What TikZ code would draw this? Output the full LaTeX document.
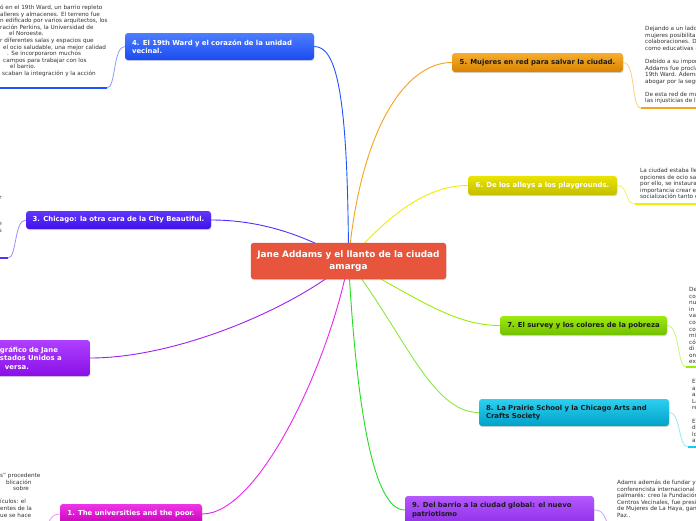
\documentclass[tikz,border=0pt]{standalone}
\usepackage{fontspec}
\setmainfont{DejaVu Sans}
\usetikzlibrary{shadows}
\pgfdeclarelayer{bg}
\pgfsetlayers{bg,main}
\definecolor{cred}{HTML}{E8553D}
\definecolor{b4t}{HTML}{4D7DFF}\definecolor{b4b}{HTML}{1A4CF0}
\definecolor{b5t}{HTML}{F7AE2E}\definecolor{b5b}{HTML}{D98200}
\definecolor{b6t}{HTML}{EAE400}\definecolor{b6b}{HTML}{C4BE00}
\definecolor{b3t}{HTML}{6036FF}\definecolor{b3b}{HTML}{3E12E6}
\definecolor{b2t}{HTML}{AE40FF}\definecolor{b2b}{HTML}{8A10E6}
\definecolor{b7t}{HTML}{9EEA10}\definecolor{b7b}{HTML}{72C000}
\definecolor{b8t}{HTML}{2CD0F0}\definecolor{b8b}{HTML}{00A2C8}
\definecolor{b9t}{HTML}{B458FF}\definecolor{b9b}{HTML}{9030E8}
\definecolor{b1t}{HTML}{EE36E6}\definecolor{b1b}{HTML}{C800B8}
\definecolor{l4}{HTML}{1F55FF}
\definecolor{l5}{HTML}{F7A21B}
\definecolor{l6}{HTML}{F0EE00}
\definecolor{l3}{HTML}{5030FF}
\definecolor{l2}{HTML}{A020F0}
\definecolor{l1}{HTML}{EE22EE}
\definecolor{l7}{HTML}{99EE00}
\definecolor{l8}{HTML}{88E844}
\definecolor{l9}{HTML}{22DD22}
\definecolor{l8u}{HTML}{11CCEE}
\definecolor{l9u}{HTML}{A040F0}
\definecolor{notegray}{HTML}{333333}
\definecolor{darktext}{HTML}{1A1A1A}
\newcommand{\leftlines}[1]{\begin{tabular}{@{}l@{}}#1\end{tabular}}
\newcommand{\rightlines}[1]{\begin{tabular}{@{}r@{}}#1\end{tabular}}
\tikzset{
  box/.style={rounded corners=3pt, inner xsep=7pt, inner ysep=0pt, align=left,
    font=\fontsize{6.9}{8.4}\selectfont\bfseries,
    drop shadow={opacity=0.3, shadow xshift=0.4pt, shadow yshift=-1.2pt}},
  onebox/.style={box, inner xsep=0pt, align=center},
  note/.style={inner sep=0pt, anchor=north west,
    font=\fontsize{5.7}{6.55}\selectfont, text=notegray},
  link/.style={line width=0.9pt},
  twig/.style={line width=0.8pt},
  under/.style={line width=1.8pt},
}
\begin{document}
\begin{tikzpicture}[x=1pt,y=-1pt]
\useasboundingbox (0,0) rectangle (696,520);
\begin{pgfonlayer}{bg}
\fill[white] (0,0) rectangle (696,520);
\end{pgfonlayer}

% central node
\node[box, align=center, inner xsep=0pt, fill=cred, draw=cred!90!black, text=white,
  font=\fontsize{8.9}{11.6}\selectfont\bfseries, minimum width=195pt, minimum height=36pt]
  (c) at (348.5,261) {Jane Addams y el llanto de la ciudad\\amarga};

% branch nodes
\node[box, top color=b4t, bottom color=b4b, text=white, text width=175pt, minimum height=27pt]
  (n4) at (219.5,46.5) {\mbox{4. El 19th Ward y el corazón de la unidad}\\vecinal.};
\node[onebox, top color=b5t, bottom color=b5b, text=darktext, minimum width=171pt, minimum height=19pt]
  (n5) at (537.5,62.5) {5. Mujeres en red para salvar la ciudad.};
\node[onebox, top color=b6t, bottom color=b6b, text=white, minimum width=149pt, minimum height=19pt]
  (n6) at (542.5,185.5) {6. De los alleys a los playgrounds.};
\node[onebox, top color=b3t, bottom color=b3b, text=white, minimum width=185pt, minimum height=18pt]
  (n3) at (118.5,220) {3. Chicago: la otra cara de la City Beautiful.};
\node[box, top color=b2t, bottom color=b2b, text=white, text width=96pt, minimum height=36pt]
  (n2) at (35,358) {\hspace*{13pt}gráfico de Jane\\\hspace*{13pt}stados Unidos a\\\hspace*{18pt}versa.};
\node[onebox, top color=b7t, bottom color=b7b, text=darktext, minimum width=167pt, minimum height=19pt]
  (n7) at (583.5,325.5) {7. El survey y los colores de la pobreza};
\node[box, top color=b8t, bottom color=b8b, text=darktext, text width=176pt, minimum height=27pt]
  (n8) at (574,412.5) {\mbox{8. La Prairie School y la Chicago Arts and}\\Crafts Society};
\node[box, top color=b9t, bottom color=b9b, text=darktext, text width=175pt, minimum height=28pt]
  (n9) at (499.5,510) {\mbox{9. Del barrio a la ciudad global: el nuevo}\\patriotismo};
\node[onebox, top color=b1t, bottom color=b1b, text=white, minimum width=142pt, minimum height=20pt]
  (n1) at (131,514) {1. The universities and the poor.};

% note texts
\node[note] (t4) at (0,5) {\leftlines{ó en el 19th Ward, un barrio repleto\\
alleres y almacenes. El terreno fue\\
n edificado por varios arquitectos, los\\
ración Perkins, la Universidad de\\
\hspace*{9pt}el Noroeste.\\
r diferentes salas y espacios que\\
\hspace*{3pt}el ocio saludable, una mejor calidad\\
\hspace*{7pt}. Se incorporaron muchos\\
\hspace*{3pt}campos para trabajar con los\\
\hspace*{10pt}el barrio.\\
\hspace*{2pt}scaban la integración y la acción}};
\node[note] (t5) at (645,26) {\leftlines{Dejando a un lado\\mujeres posibilitar\\colaboraciones. Di\\como educativas o\\ \\Debido a su impor\\Addams fue procla\\19th Ward. Ademá\\abogar por la segu\\ \\De esta red de mu\\las injusticias de la}};
\node[note] (t6) at (640,168) {\leftlines{La ciudad estaba llen\\opciones de ocio salu\\por ello, se instauraro\\importancia crear es\\socialización tanto o}};
\node[note, anchor=north east] (t3) at (2,195) {\rightlines{r\\ \\ \\ \\e\\s}};
\node[note] (t7) at (689,287) {\leftlines{De\\co\\nu\\in\\va\\co\\co\\mi\\có\\di\\on\\ex}};
\node[note] (t8) at (692,379) {\leftlines{E\\al\\an\\La\\re\\ \\E\\de\\lo\\ar}};
\node[note] (t9) at (617,480) {\leftlines{Adams además de fundar y f\\conferencista internacional c\\palmarés: creo la Fundación\\Centros Vecinales, fue preside\\de Mujeres de La Haya, gana\\Paz..}};
\node[note] (t1) at (0,473) {\leftlines{s" procedente\\\hspace*{6pt}blicación\\\hspace*{13pt}sobre\\ \\ículos: el\\entes de la\\ue se hace}};

% end points of underlines
\coordinate (u4a) at (107,88);  \coordinate (u4b) at (0,88);
\coordinate (u5a) at (641,108); \coordinate (u5b) at (696,108);
\coordinate (u6a) at (635,204); \coordinate (u6b) at (696,204);
\coordinate (u3a) at (8,258);   \coordinate (u3b) at (0,258);
\coordinate (u7a) at (686,367); \coordinate (u7b) at (696,367);
\coordinate (u8a) at (688,447); \coordinate (u8b) at (696,447);
\coordinate (u9a) at (612,532);
\coordinate (u1a) at (44,532);

\begin{pgfonlayer}{bg}
% center to branches
\draw[link, l4] (c.center) .. controls (348,90) and (336,46.5) .. (n4.east);
\draw[link, l5] (c.center) .. controls (360,130) and (405,62.5) .. (n5.west);
\draw[link, l6] (c.center) .. controls (392,210) and (430,185.5) .. (n6.west);
\draw[link, l3] (c.center) .. controls (290,225) and (240,220) .. (n3.east);
\draw[link, l2] (c.center) .. controls (300,305) and (180,358) .. (n2.east);
\draw[link, l1] (c.center) .. controls (330,360) and (260,514) .. (n1.east);
\draw[link, l9] (c.center) .. controls (356,400) and (372,510) .. (n9.west);
\draw[link, l7] (c.center) .. controls (420,300) and (455,325.5) .. (n7.west);
\draw[link, l8] (c.center) .. controls (405,335) and (432,412.5) .. (n8.west);
% branches to notes
\draw[twig, l4!55] (n4.west) .. controls (113,46.5) and (116,88) .. (u4a);
\draw[under, l4] (u4a) -- (u4b);
\draw[twig, l5!55] (n5.east) .. controls (636,62.5) and (631,108) .. (u5a);
\draw[under, l5] (u5a) -- (u5b);
\draw[twig, l6!70] (n6.east) .. controls (629,185.5) and (624,204) .. (u6a);
\draw[under, l6] (u6a) -- (u6b);
\draw[twig, l3!55] (n3.west) .. controls (14,220) and (17,258) .. (u3a);
\draw[under, l3] (u3a) -- (u3b);
\draw[twig, l7!55] (n7.east) .. controls (680,325.5) and (677,367) .. (u7a);
\draw[under, l7] (u7a) -- (u7b);
\draw[twig, l8u!45] (n8.east) .. controls (681,412.5) and (678,447) .. (u8a);
\draw[under, l8u] (u8a) -- (u8b);
\draw[twig, l9u!50] (n9.east) .. controls (606,510) and (604,520) .. (u9a);
\draw[twig, l1!50] (n1.west) .. controls (50,514) and (50,522) .. (u1a);
\end{pgfonlayer}
\end{tikzpicture}
\end{document}
